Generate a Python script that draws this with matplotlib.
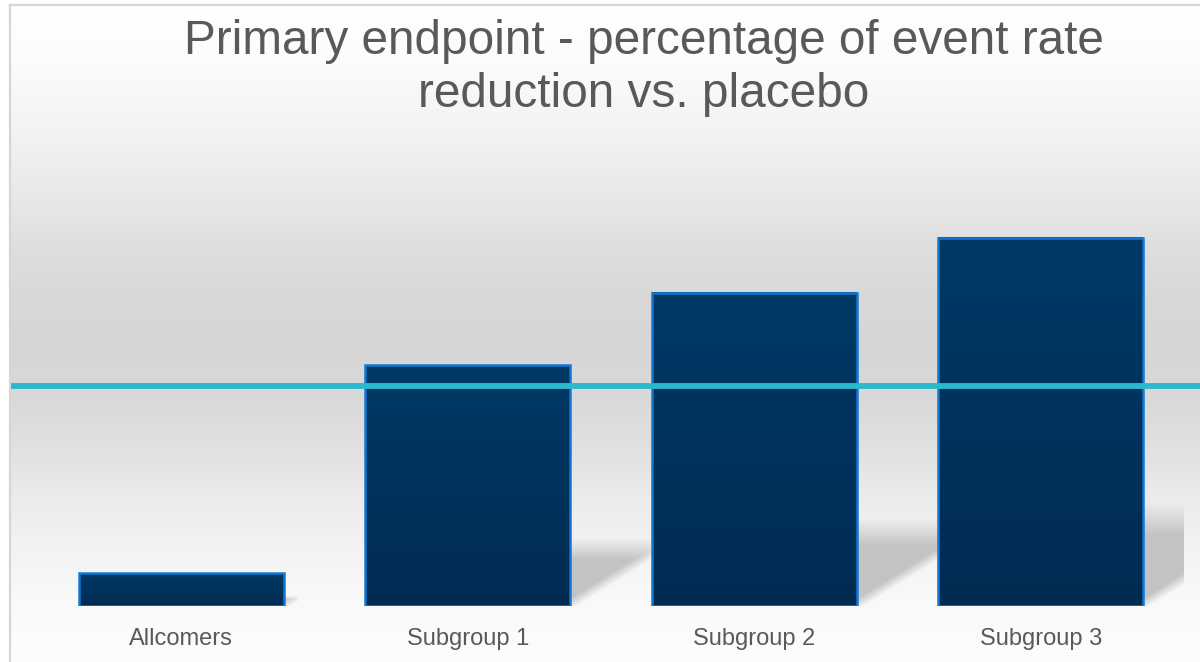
import numpy as np
import matplotlib
matplotlib.use("Agg")
import matplotlib.pyplot as plt
from matplotlib.transforms import blended_transform_factory

# ---- data -------------------------------------------------------------
categories = ["Allcomers", "Subgroup 1", "Subgroup 2", "Subgroup 3"]
reduction = [3.0, 21.9, 28.5, 33.5]          # % event rate reduction vs. placebo
reference_level = 20.0                        # horizontal reference line
title_lines = ["Primary endpoint - percentage of event rate",
               "reduction vs. placebo"]

# ---- styling ----------------------------------------------------------
plt.rcParams["font.family"] = ["Liberation Sans", "DejaVu Sans"]
TEXT = "#595959"
BAR_TOP = np.array([0x00, 0x39, 0x66]) / 255
BAR_BOT = np.array([0x00, 0x2c, 0x52]) / 255
BAR_EDGE = "#1376d2"
LINE_COL = "#2ab8cc"
SHADOW_RGB = 0.76

W, H = 1200, 662
fig = plt.figure(figsize=(W / 100, H / 100), dpi=100)
fig.patch.set_facecolor("white")

# background panel: white -> light grey -> white vertical gradient
bg = fig.add_axes([9 / W, 0, 1 - 9 / W, 1 - 4 / H], zorder=-10)
bg.set_axis_off()
py = np.arange(4, H + 1)
anchor_y = [4, 60, 130, 200, 250, 300, 350, 400, 450, 500, 550, 600, 662]
anchor_v = [255, 252, 243, 232, 222, 216, 214, 217, 225, 236, 243, 249, 253]
g = np.interp(py, anchor_y, anchor_v) / 255.0
bg_img = np.repeat(g[:, None, None], 3, axis=2)
bg.imshow(bg_img, extent=[0, 1, 0, 1], aspect="auto", origin="upper")
bg.set_xlim(0, 1)
bg.set_ylim(0, 1)
# panel border (top and left edges)
fig.add_artist(plt.Line2D([9.5 / W, 9.5 / W], [0, 1 - 4.5 / H],
                          transform=fig.transFigure, color="#d6d6d6", lw=1.6))
fig.add_artist(plt.Line2D([9.5 / W, 1], [1 - 4.5 / H, 1 - 4.5 / H],
                          transform=fig.transFigure, color="#d6d6d6", lw=1.6))

# ---- plot area --------------------------------------------------------
px_left, px_right, px_base, px_top = 38, 1184, 606, 130
ax = fig.add_axes([px_left / W, (H - px_base) / H,
                   (px_right - px_left) / W, (px_base - px_top) / H])
ax.set_facecolor("none")
ppu_y = 11.0                                   # pixels per data unit (y)
ppu_x = (px_right - px_left) / 4.0             # pixels per category
ymax = (px_base - px_top) / ppu_y
x = np.arange(len(categories))
width = 0.715

# soft perspective shadows behind the bars
for xi, h in zip(x, reduction):
    x0, x1 = xi - width / 2, xi + width / 2
    hs = 0.25 * h
    s = 1.6 * hs * ppu_y / ppu_x
    top = hs * 1.12
    nu, nv = 240, 160
    u = np.linspace(x0, x1 + s, nu)
    v = np.linspace(top, 0, nv)
    U, V = np.meshgrid(u, v)
    Xp, Yp = (U - x1) * ppu_x, V * ppu_y
    dx, dy = s * ppu_x, hs * ppu_y
    n = np.hypot(dx, dy)
    d = -(Xp * dy - Yp * dx) / n               # >0 inside shadow
    a_diag = np.clip((d + 4) / 10.0, 0, 1)
    a_top = np.clip((top - V) / (0.35 * hs + 1e-9), 0, 1)
    alpha = a_diag * a_top
    img = np.zeros((nv, nu, 4))
    img[..., :3] = SHADOW_RGB
    img[..., 3] = alpha * 0.95
    ax.imshow(img, extent=[x0, x1 + s, 0, top], aspect="auto",
              origin="upper", zorder=1, interpolation="bilinear")

# bars with a subtle vertical gradient fill
grad = np.linspace(0, 1, 64)[:, None, None]
bar_img = BAR_TOP * (1 - grad) + BAR_BOT * grad
for xi, h in zip(x, reduction):
    ax.imshow(bar_img, extent=[xi - width / 2, xi + width / 2, 0, h],
              aspect="auto", origin="upper", zorder=2)
ax.bar(x, reduction, width=width, facecolor="none", edgecolor=BAR_EDGE,
       linewidth=1.8, zorder=3)

# reference line spanning the whole panel
trans = blended_transform_factory(fig.transFigure, ax.transData)
ax.plot([10 / W, 1.0], [reference_level, reference_level], transform=trans,
        color=LINE_COL, lw=4.2, solid_capstyle="butt", clip_on=False, zorder=5)

ax.set_xlim(-0.5, len(categories) - 0.5)
ax.set_ylim(0, ymax)
ax.set_xticks(x)
ax.set_xticklabels(categories, fontsize=17, color=TEXT)
ax.tick_params(axis="x", length=0, pad=16)
ax.set_yticks([])
for sp in ax.spines.values():
    sp.set_visible(False)

# title
cx = 644 / W
fig.text(cx, 1 - 54 / H, title_lines[0], ha="center", va="baseline",
         fontsize=34.4, color=TEXT)
fig.text(cx, 1 - 107 / H, title_lines[1], ha="center", va="baseline",
         fontsize=34.4, color=TEXT)

fig.savefig("out.png", dpi=100)
